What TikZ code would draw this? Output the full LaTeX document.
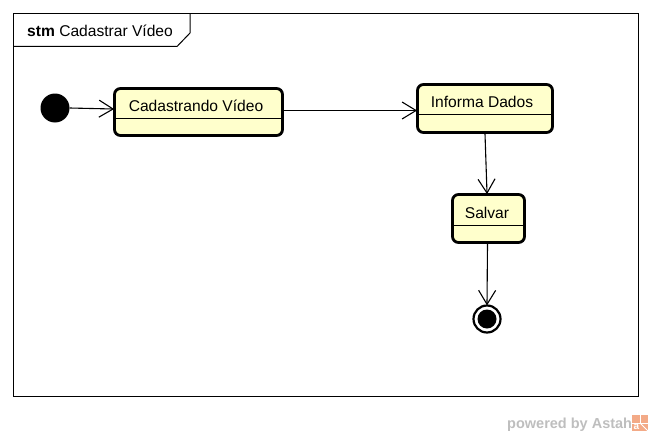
\documentclass[tikz,border=0pt]{standalone}
\usepackage{fontspec}
\setmainfont{Liberation Sans}
\usetikzlibrary{arrows.meta}
\definecolor{statefill}{RGB}{255,255,204}
\definecolor{markgray}{RGB}{190,190,190}
\definecolor{logoorange}{RGB}{243,170,135}
\tikzstyle{frame}=[draw=black, line width=1pt]
\tikzstyle{state}=[draw=black, fill=statefill, line width=2.8pt, rounded corners=6pt, inner sep=0pt]
\tikzstyle{statename}=[inner sep=0pt, font=\fontsize{15.6}{18}\selectfont]
\tikzstyle{divider}=[line width=1pt]
\tikzstyle{flow}=[line width=1.1pt, shorten >=-1pt, -{Straight Barb[length=14pt,width=17pt,line width=1.1pt]}]
\tikzstyle{logomark}=[draw=white, line width=1pt]

\begin{document}
\begin{tikzpicture}[x=1pt, y=-1pt]
          \useasboundingbox (0, 0) rectangle (652, 436);
          \draw[frame] (13.5, 13.5) rectangle (638, 396);
          \draw[frame] (13.5, 46.5) -- (177, 46.5) -- (190, 33) -- (190, 13.5);
          \node[statename, anchor=base west] (title) at (27, 37)
            {\textbf{stm} Cadastrar Vídeo};

          \node[circle, fill=black, minimum size=29pt, inner sep=0pt] (start) at (55, 108) {};
          \node[state, minimum width=168pt, minimum height=47pt] (cadastrando) at (198.5, 112) {};
          \node[state, minimum width=135pt, minimum height=48pt] (informa) at (485, 108.5) {};
          \node[state, minimum width=72pt, minimum height=48pt] (salvar) at (488.5, 218.5) {};
          \node[circle, draw=black, fill=white, line width=2.2pt, minimum size=27pt, inner sep=0pt] (stop) at (487, 319) {};
          \node[circle, fill=black, minimum size=19pt, inner sep=0pt] (stopdot) at (487, 319) {};

          \node[statename] (cadastrandoname) at (196, 106) {Cadastrando Vídeo};
          \node[statename] (informaname) at (482, 102) {Informa Dados};
          \node[statename] (salvarname) at (487, 213) {Salvar};

          \draw[divider] (cadastrando.west |- 0, 118) -- (cadastrando.east |- 0, 118);
          \draw[divider] (informa.west |- 0, 114.5) -- (informa.east |- 0, 114.5);
          \draw[divider] (salvar.west |- 0, 225) -- (salvar.east |- 0, 225);

          \draw[flow] (start.east) -- ([yshift=3pt]cadastrando.west);
          \draw[flow] ([yshift=1.5pt]cadastrando.east) -- ([yshift=-2pt]informa.west);
          \draw[flow] (informa.south) -- ([xshift=-1.5pt]salvar.north);
          \draw[flow] ([xshift=-1pt]salvar.south) -- (stop.north);

          \node[inner sep=0pt, anchor=base west, text=markgray, font=\fontsize{14.5}{16}\selectfont\bfseries] (powered) at (507, 428) {powered by Astah};
          \node[fill=logoorange, minimum size=16pt, inner sep=0pt] (logo) at (640, 423) {};
          \node[inner sep=0pt, text=white, font=\fontsize{10}{10}\selectfont\bfseries] (logoletter) at (636.5, 426.5) {a};
          \draw[logomark] (logo.west) -- (logo.east);
          \draw[logomark] (logo.north) -- (logo.center);
          \draw[logomark] (logo.center) -- (logo.south east);
        \end{tikzpicture}
\end{document}
